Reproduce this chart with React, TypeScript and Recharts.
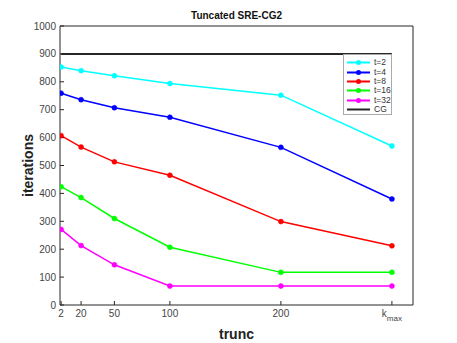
import { Line, LineChart, XAxis, YAxis } from "recharts";

const trunc = [2, 20, 50, 100, 200, 300];
const xTicks = [2, 20, 50, 100, 200, 300];
const yTicks = [0, 100, 200, 300, 400, 500, 600, 700, 800, 900, 1000];

const t2 = [853, 840, 822, 794, 752, 570];
const t4 = [759, 736, 707, 673, 565, 380];
const t8 = [607, 566, 513, 465, 299, 212];
const t16 = [424, 385, 310, 207, 117, 117];
const t32 = [271, 213, 144, 68, 68, 68];
const cg = [900, 900, 900, 900, 900, 900];

const series = [
  { key: "t2", name: "t=2", color: "#00FFFF", values: t2 },
  { key: "t4", name: "t=4", color: "#0000FF", values: t4 },
  { key: "t8", name: "t=8", color: "#FF0000", values: t8 },
  { key: "t16", name: "t=16", color: "#00FF00", values: t16 },
  { key: "t32", name: "t=32", color: "#FF00FF", values: t32 },
];

const data = trunc.map((x, i) => {
  const row: any = { trunc: x, cg: cg[i] };
  series.forEach((s) => (row[s.key] = s.values[i]));
  return row;
});

const font = "'Liberation Sans', Arial, Helvetica, sans-serif";
const axisColor = "#262626";

function XTick(props: any) {
  const { x, y, payload } = props;
  if (payload.value === 300) {
    return (
      <text x={x} y={y} textAnchor="middle" fontSize={10} fill="#444" fontFamily={font} dy={8}>
        k
        <tspan fontSize={8} dy={4}>max</tspan>
      </text>
    );
  }
  return (
    <text x={x} y={y} textAnchor="middle" fontSize={10} fill="#444" fontFamily={font} dy={8}>
      {payload.value}
    </text>
  );
}

function LegendBox() {
  const items = [...series.map((s) => ({ name: s.name, color: s.color, dot: true })), { name: "CG", color: "#262626", dot: false }];
  return (
    <div style={{ position: "absolute", left: 343, top: 54, border: "1px solid #aaa", background: "#fff", width: 49, height: 61, boxSizing: "border-box", paddingTop: 3 }}>
      {items.map((it) => (
        <div key={it.name} style={{ display: "flex", alignItems: "center", height: 9.4, fontSize: 8.5, fontFamily: font, color: "#333" }}>
          <svg width={30} height={9} style={{ flex: "none" }}>
            <line x1={3} x2={26} y1={4.5} y2={4.5} stroke={it.color} strokeWidth={2} />
            {it.dot && <circle cx={14.5} cy={4.5} r={2.5} fill={it.color} />}
          </svg>
          <span style={{ lineHeight: "9px" }}>{it.name}</span>
        </div>
      ))}
    </div>
  );
}

export default function App() {
  return (
    <div style={{ position: "absolute", left: 0, top: 0, width: 457, height: 343, background: "#fff" }}>
      <LineChart width={457} height={343} data={data} margin={{ top: 25, right: 43, left: 0, bottom: 0 }}>
        <XAxis
          dataKey="trunc"
          type="number"
          domain={[1, 319]}
          allowDataOverflow
          ticks={xTicks}
          tick={<XTick />}
          tickSize={-4}
          tickMargin={8}
          height={38}
          stroke={axisColor}
          interval={0}
          label={{ value: "trunc", position: "insideBottom", offset: 4, fontSize: 14, fontWeight: "bold", fill: "#222", fontFamily: font }}
        />
        <XAxis
          xAxisId="top"
          dataKey="trunc"
          orientation="top"
          type="number"
          domain={[1, 319]}
          allowDataOverflow
          ticks={xTicks}
          tick={false}
          tickSize={-4}
          height={1}
          stroke={axisColor}
          interval={0}
          label={{ value: "Tuncated SRE-CG2", position: "top", offset: 6, fontSize: 10, fontWeight: "bold", fill: "#111", fontFamily: font }}
        />
        <YAxis
          type="number"
          domain={[0, 1000]}
          allowDataOverflow
          ticks={yTicks}
          tickSize={-4}
          tickMargin={8}
          width={60}
          stroke={axisColor}
          interval={0}
          tick={{ fontSize: 10, fill: "#444", fontFamily: font }}
          label={{ value: "iterations", angle: -90, position: "insideLeft", offset: 28, fontSize: 14, fontWeight: "bold", fill: "#222", fontFamily: font, style: { textAnchor: "middle" } }}
        />
        <YAxis
          yAxisId="right"
          orientation="right"
          type="number"
          domain={[0, 1000]}
          allowDataOverflow
          ticks={yTicks}
          tick={false}
          tickSize={-4}
          width={1}
          stroke={axisColor}
          interval={0}
        />
        <Line xAxisId="top" yAxisId="right" dataKey="cg" name="CG" stroke="#262626" strokeWidth={2} dot={false} isAnimationActive={false} />
        {series.map((s) => (
          <Line
            key={s.key}
            dataKey={s.key}
            name={s.name}
            stroke={s.color}
            strokeWidth={1.5}
            dot={{ r: 2.5, fill: s.color, stroke: s.color, strokeWidth: 0.5 }}
            isAnimationActive={false}
          />
        ))}
      </LineChart>
      <LegendBox />
    </div>
  );
}
